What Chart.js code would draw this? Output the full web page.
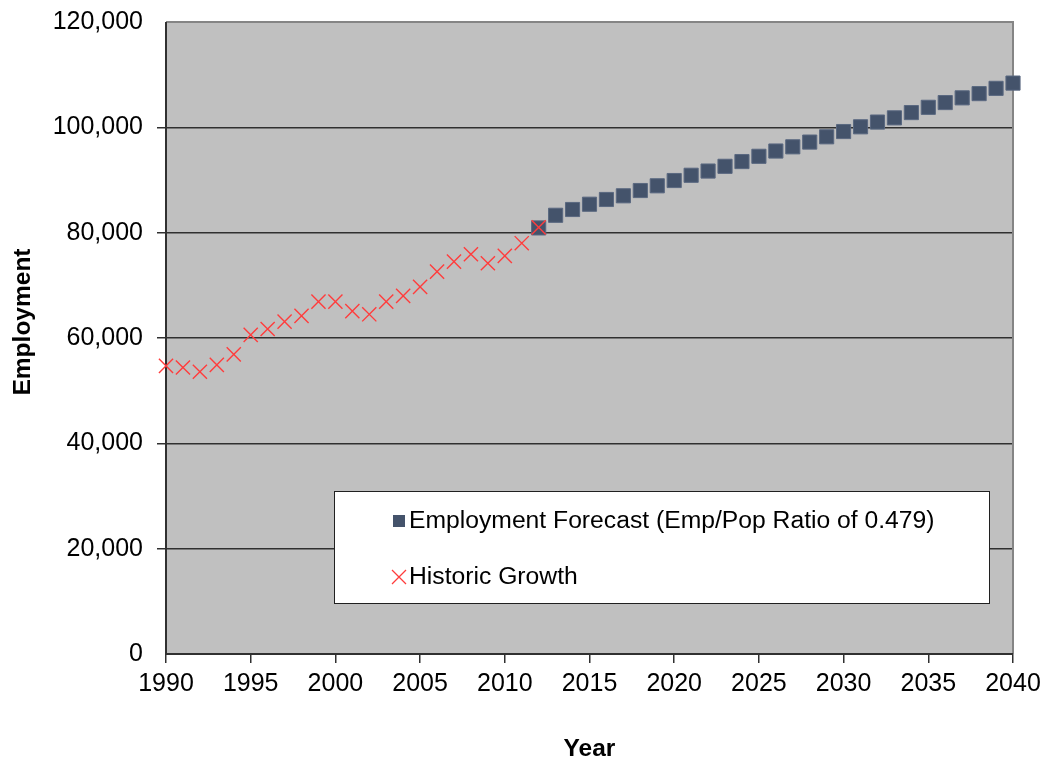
<!DOCTYPE html>
<html>
<head>
<meta charset="utf-8">
<script src="https://cdn.jsdelivr.net/npm/chart.js@4.4.1/dist/chart.umd.min.js"></script>
<style>
  html, body { margin: 0; padding: 0; background: #ffffff; }
  #wrap { width: 1044px; height: 765px; position: relative; }
</style>
</head>
<body>
<div id="wrap"><canvas id="c" width="1044" height="765"></canvas></div>
<script>
// ---- Data ----
const historicYears = [1990,1991,1992,1993,1994,1995,1996,1997,1998,1999,2000,2001,2002,2003,2004,2005,2006,2007,2008,2009,2010,2011,2012];
const historicValues = [54700,54400,53600,54900,56900,60600,61700,63100,64200,66900,66900,65100,64500,66900,68000,69700,72600,74500,75900,74200,75600,78000,81000];

const forecastYears = [2012,2013,2014,2015,2016,2017,2018,2019,2020,2021,2022,2023,2024,2025,2026,2027,2028,2029,2030,2031,2032,2033,2034,2035,2036,2037,2038,2039,2040];
const forecastValues = [80900,83300,84400,85400,86300,87000,88000,88900,89900,90900,91700,92600,93500,94500,95500,96300,97200,98200,99200,100100,101000,101800,102800,103800,104700,105600,106400,107400,108400];

const seriesNames = ['Employment Forecast (Emp/Pop Ratio of 0.479)', 'Historic Growth'];
const xTitle = 'Year';
const yTitle = 'Employment';
const yTicks = [0, 20000, 40000, 60000, 80000, 100000, 120000];
const xTicks = [1990,1995,2000,2005,2010,2015,2020,2025,2030,2035,2040];

const FONT = "'Liberation Sans', Arial, sans-serif";
const SQ_COLOR = '#44536b';
const X_COLOR = '#ff3c3c';

const toXY = (xs, ys) => xs.map((x, i) => ({ x: x, y: ys[i] }));

// plot background + border
const plotBg = {
  id: 'plotBg',
  beforeDraw(chart) {
    const { ctx, chartArea: a } = chart;
    ctx.save();
    ctx.fillStyle = '#c0c0c0';
    ctx.fillRect(a.left, a.top, a.right - a.left, a.bottom - a.top);
    ctx.restore();
  },
  beforeDatasetsDraw(chart) {
    const { ctx, chartArea: a } = chart;
    ctx.save();
    ctx.strokeStyle = '#858585';
    ctx.lineWidth = 2;
    ctx.beginPath();
    ctx.moveTo(a.left, a.top);
    ctx.lineTo(a.right, a.top);
    ctx.lineTo(a.right, a.bottom);
    ctx.stroke();
    ctx.strokeStyle = '#303030';
    ctx.beginPath();
    ctx.moveTo(a.left, a.top);
    ctx.lineTo(a.left, a.bottom);
    ctx.lineTo(a.right, a.bottom);
    ctx.stroke();
    ctx.restore();
  }
};

// legend box inside plot + y title
const boxLegend = {
  id: 'boxLegend',
  afterDraw(chart) {
    const { ctx } = chart;
    const xs = chart.scales.x, ys = chart.scales.y;
    const left = xs.getPixelForValue(1990) + 168;
    const right = xs.getPixelForValue(2040) - 23;
    const top = ys.getPixelForValue(0) - 163;
    const bottom = ys.getPixelForValue(0) - 50;
    ctx.save();
    ctx.fillStyle = '#ffffff';
    ctx.fillRect(left, top, right - left, bottom - top);
    ctx.strokeStyle = '#202020';
    ctx.lineWidth = 1;
    ctx.strokeRect(left + 0.5, top + 0.5, right - left - 1, bottom - top - 1);

    const mx = left + 65;
    const rows = [top + 30, top + 86];
    ctx.fillStyle = SQ_COLOR;
    ctx.fillRect(mx - 6, rows[0] - 6, 12, 12);
    ctx.strokeStyle = X_COLOR;
    ctx.lineWidth = 1.3;
    ctx.beginPath();
    ctx.moveTo(mx - 7, rows[1] - 7); ctx.lineTo(mx + 7, rows[1] + 7);
    ctx.moveTo(mx + 7, rows[1] - 7); ctx.lineTo(mx - 7, rows[1] + 7);
    ctx.stroke();

    ctx.fillStyle = '#000000';
    ctx.font = '24.7px ' + FONT;
    ctx.textAlign = 'left';
    ctx.textBaseline = 'middle';
    ctx.fillText(seriesNames[0], mx + 10, rows[0]);
    ctx.fillText(seriesNames[1], mx + 10, rows[1]);

    // y title
    ctx.translate(23, 322);
    ctx.rotate(-Math.PI / 2);
    ctx.font = 'bold 24.5px ' + FONT;
    ctx.textAlign = 'center';
    ctx.fillText(yTitle, 0, 0);
    ctx.restore();
  }
};

new Chart(document.getElementById('c'), {
  type: 'scatter',
  data: {
    datasets: [
      {
        label: seriesNames[1],
        data: toXY(historicYears, historicValues),
        pointStyle: 'crossRot',
        pointRadius: 10,
        pointHoverRadius: 10,
        borderColor: X_COLOR,
        backgroundColor: X_COLOR,
        borderWidth: 1.4,
        clip: false,
        order: 0
      },
      {
        label: seriesNames[0],
        data: toXY(forecastYears, forecastValues),
        pointStyle: 'rect',
        pointRadius: 10,
        pointHoverRadius: 10,
        backgroundColor: SQ_COLOR,
        borderColor: '#5a6880',
        borderWidth: 1,
        clip: false,
        order: 1
      }
    ]
  },
  options: {
    responsive: false,
    animation: false,
    events: [],
    layout: { padding: { top: 22, right: 31, left: 0, bottom: 0 } },
    plugins: {
      legend: { display: false },
      tooltip: { enabled: false }
    },
    scales: {
      x: {
        type: 'linear',
        min: 1990,
        max: 2040,
        afterBuildTicks(scale) { scale.ticks = xTicks.map(v => ({ value: v })); },
        afterFit(scale) { scale.height = 111; scale.paddingLeft = 0; scale.paddingRight = 0; },
        ticks: {
          font: { family: FONT, size: 25 },
          color: '#000000',
          padding: 6,
          maxRotation: 0,
          autoSkip: false,
          callback: v => String(v)
        },
        grid: {
          display: true,
          drawOnChartArea: false,
          drawTicks: true,
          tickLength: 9,
          color: '#303030',
          lineWidth: 1.5
        },
        border: { display: false },
        title: {
          display: true,
          text: xTitle,
          font: { family: FONT, size: 24.5, weight: 'bold' },
          color: '#000000',
          padding: { top: 0, bottom: 1 }
        }
      },
      y: {
        type: 'linear',
        min: 0,
        max: 120000,
        afterBuildTicks(scale) { scale.ticks = yTicks.map(v => ({ value: v })); },
        afterFit(scale) { scale.width = 166; scale.paddingTop = 0; scale.paddingBottom = 0; },
        ticks: {
          font: { family: FONT, size: 25 },
          color: '#000000',
          padding: 14,
          callback: v => v.toLocaleString('en-US')
        },
        grid: {
          display: true,
          drawOnChartArea: true,
          drawTicks: true,
          tickLength: 9,
          color: ctx => (ctx.tick && (ctx.tick.value === 120000 || ctx.tick.value === 0)) ? 'rgba(0,0,0,0)' : '#303030',
          lineWidth: 1.5
        },
        border: { display: false }
      }
    }
  },
  plugins: [plotBg, boxLegend]
});
</script>
</body>
</html>
